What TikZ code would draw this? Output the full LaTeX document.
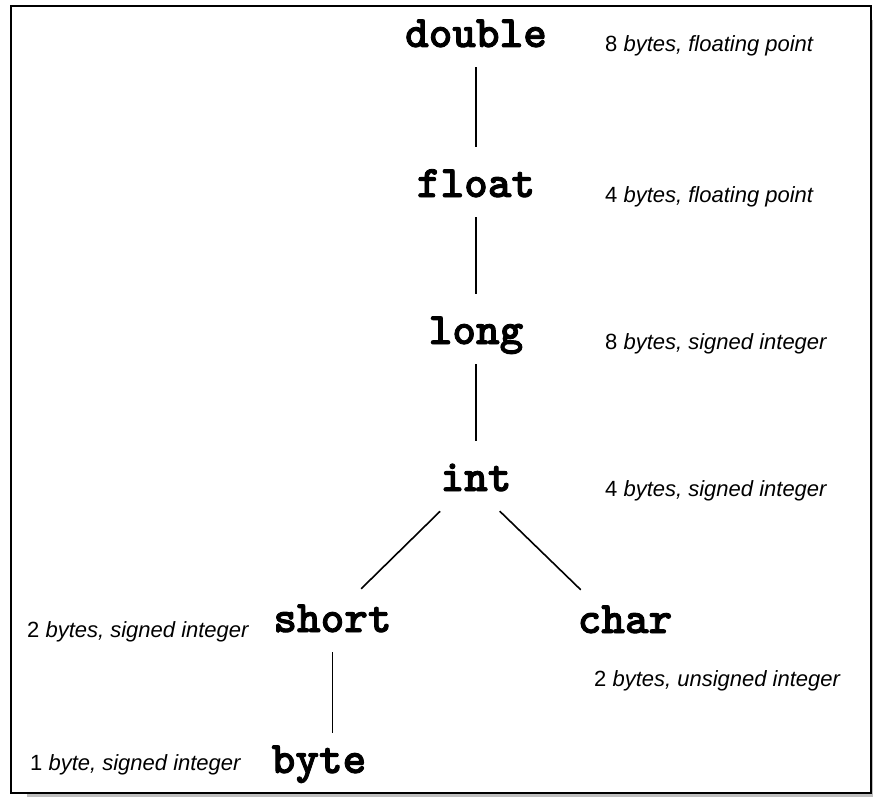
\documentclass[tikz,border=0pt]{standalone}
\usepackage{fontspec}
\setmainfont{Liberation Sans}
\newfontfamily\typefont{lmmonolt10-bold.otf}[FakeBold=2]

\begin{document}
\begin{tikzpicture}[x=1pt,y=-1pt,
        type/.style={anchor=base,font=\fontsize{45}{45}\selectfont\typefont,
            text height=38pt,text depth=8pt,inner xsep=4pt,inner ysep=12pt},
        info/.style={anchor=base west,font=\fontsize{22}{22}\selectfont,inner sep=0pt},
        link/.style={line width=1.6pt}]

                \useasboundingbox (0,0) rectangle (873,797);

                % frame and its shadow
                \fill [black!25] (27,20) rectangle (873,797);
                \draw [line width=2.5pt,fill=white] (11,6) rectangle (871,793);

                % the primitive types
                \node [type] (double) at (476,47) {double};
                \node [type] (float) at (476,197) {float};
                \node [type] (long) at (476,344) {long};
                \node [type] (int) at (476,491) {int};
                \node [type] (short) at (332.5,632) {short};
                \node [type] (char) at (625,633) {char};
                \node [type] (byte) at (319,773) {byte};

                % sizes
                \node [info] (double info) at (605,52) {8 \textit{bytes, floating point}};
                \node [info] (float info) at (605,202) {4 \textit{bytes, floating point}};
                \node [info] (long info) at (605,349) {8 \textit{bytes, signed integer}};
                \node [info] (int info) at (605,496) {4 \textit{bytes, signed integer}};
                \node [info] (short info) at (27,637) {2 \textit{bytes, signed integer}};
                \node [info] (char info) at (594,686) {2 \textit{bytes, unsigned integer}};
                \node [info] (byte info) at (30,770) {1 \textit{byte, signed integer}};

                \draw [link] (double)--(float);
                \draw [link] (float)--(long);
                \draw [link] (long)--(int);
                \draw [link,shorten >=-10pt] (int)--(short);
                \draw [link,shorten >=-10pt] (int.-56)--(char.north west);
                \draw [link,shorten >=-10pt] (short)--(short |- byte.north);
            \end{tikzpicture}
\end{document}
